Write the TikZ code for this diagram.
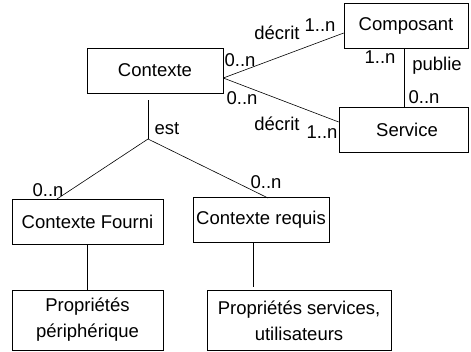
\documentclass[tikz,border=0pt]{standalone}
\usepackage{fontspec}
\setmainfont{Liberation Sans}
\begin{document}
\begin{tikzpicture}[x=1pt,y=-1pt,line width=0.6pt,
  ent/.style={draw,inner sep=0pt,font=\fontsize{18.5}{26}\selectfont,align=center},
  lbl/.style={inner sep=0pt,font=\fontsize{18.5}{22}\selectfont}]
\useasboundingbox (0,0) rectangle (471,351);
% entities
\node[ent,minimum width=136pt,minimum height=45pt] (ctx) at (155,70.5) {Contexte};
\node[ent,minimum width=124pt,minimum height=45pt] (cmp) at (406,25.5) {Composant};
\node[ent,minimum width=129pt,minimum height=45pt] (srv) at (403.5,129.5) {\hspace*{7pt}Service};
\node[ent,minimum width=151pt,minimum height=45pt] (cf) at (87.5,221.5) {Contexte Fourni};
\node[ent,minimum width=136pt,minimum height=45pt] (cr) at (261,219.5) {Contexte requis};
\node[ent,minimum width=151pt,minimum height=60pt] (pp) at (87.5,320) {Propriétés\\périphérique};
\node[ent,minimum width=184pt,minimum height=60pt] (ps) at (299,320.5) {Propriétés services,\\utilisateurs};
% helper coordinates
\coordinate (estTop) at (148,100);
\coordinate (estJ) at (148,139);
\coordinate (cmpS) at (404,48);
\coordinate (srvN) at (404,107);
\coordinate (crS) at (253,242);
\coordinate (psN) at (253,287);
\coordinate (cfTop) at (57,199);
\coordinate (crTop) at (268,198);
% connectors
\draw ([yshift=-7.5pt]ctx.east) -- ([yshift=-7.5pt]cmp.west);
\draw ([yshift=-7.5pt]ctx.east) -- ([yshift=7.5pt]srv.west);
\draw (cmpS) -- (srvN);
\draw (estTop) -- (estJ);
\draw (estJ) -- (cfTop);
\draw (estJ) -- (crTop);
\draw (cf.south) -- (pp.north);
\draw (crS) -- (psN);
% labels
\node[lbl] (d1) at (277,33) {décrit};
\node[lbl] (m1) at (320,25) {1..n};
\node[lbl] (m2) at (240,60) {0..n};
\node[lbl] (m3) at (380,57) {1..n};
\node[lbl] (pub) at (437,66) {publie};
\node[lbl] (m4) at (424,97) {0..n};
\node[lbl] (m5) at (242,98) {0..n};
\node[lbl] (d2) at (277,124) {décrit};
\node[lbl] (m6) at (322,132) {1..n};
\node[lbl] (est) at (167,129) {est};
\node[lbl] (m7) at (48,190) {0..n};
\node[lbl] (m8) at (266,182) {0..n};
\end{tikzpicture}
\end{document}
